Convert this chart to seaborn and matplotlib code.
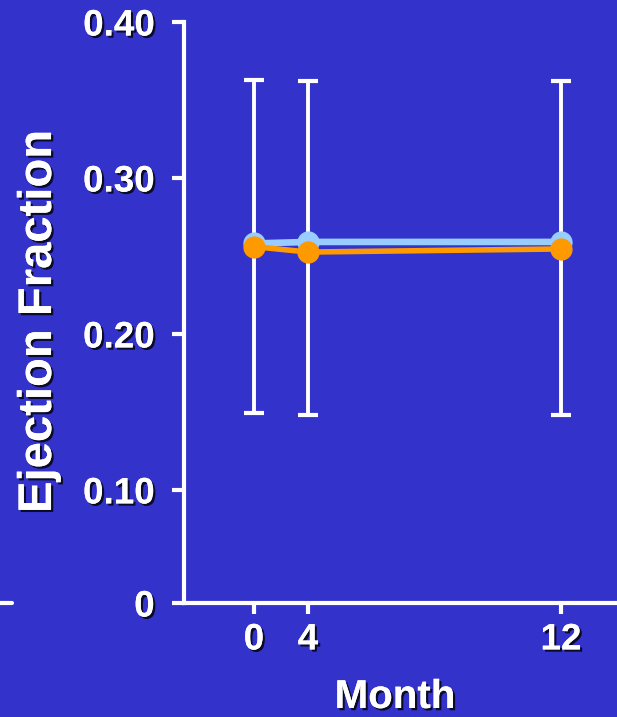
import numpy as np
import matplotlib
matplotlib.use("Agg")
import matplotlib.pyplot as plt
import matplotlib.patheffects as pe
from matplotlib.lines import Line2D
import seaborn as sns

# datos
months = [0, 4, 12]
ef_blue = [0.258, 0.259, 0.259]
ef_orange = [0.256, 0.2525, 0.2545]
err_top = [0.363, 0.362, 0.362]
err_bottom = [0.149, 0.148, 0.148]

y_zero = 0.0275  # el eje esta cortado: "0" se dibuja aqui
y_ticks = [y_zero, 0.10, 0.20, 0.30, 0.40]
y_ticklabels = ["0", "0.10", "0.20", "0.30", "0.40"]
x_ticks = [0, 4, 12]
x_ticklabels = ["0", "4", "12"]

bg = "#3333CC"
c_blue = "#99CCFF"
c_orange = "#FF9900"

sns.set_style("white")
plt.rcParams["font.family"] = ["Liberation Sans", "DejaVu Sans"]
plt.rcParams["font.weight"] = "bold"

shadow = [pe.withSimplePatchShadow(offset=(1.6, -1.6), shadow_rgbFace="black", alpha=0.8), pe.Normal()]

fig = plt.figure(figsize=(6.17, 7.17), dpi=100, facecolor=bg)
ax = fig.add_axes([184 / 617, 114 / 717, 433 / 617, 581 / 717])
ax.set_facecolor(bg)

# barras de error
lo = np.array(ef_blue) - np.array(err_bottom)
hi = np.array(err_top) - np.array(ef_blue)
ax.errorbar(months, ef_blue, yerr=[lo, hi], fmt="none", ecolor="white",
            elinewidth=2.8, capsize=7, capthick=3, zorder=1)

sns.lineplot(x=months, y=ef_blue, ax=ax, color=c_blue, linewidth=4.8, marker="o",
             markersize=16, markeredgewidth=0, zorder=3)
sns.lineplot(x=months, y=ef_orange, ax=ax, color=c_orange, linewidth=4, marker="o",
             markersize=16, markeredgewidth=0, zorder=4)

# escala no lineal en x (como en la diapositiva original)
p = 1.582
ax.set_xscale("function", functions=(lambda x: np.sign(x) * np.abs(x) ** p,
                                     lambda x: np.sign(x) * np.abs(x) ** (1 / p)))
ax.set_xlim(-4.71, 13.34)
ax.set_ylim(y_zero, 0.40)

ax.set_xticks(x_ticks)
ax.set_xticklabels(x_ticklabels)
ax.set_yticks(y_ticks)
ax.set_yticklabels(y_ticklabels)
ax.minorticks_off()

for s in ["top", "right"]:
    ax.spines[s].set_visible(False)
for s in ["left", "bottom"]:
    ax.spines[s].set_color("white")
    ax.spines[s].set_linewidth(3)

ax.tick_params(axis="y", colors="white", length=8.6, width=3, pad=12.5, labelsize=26.5, left=True)
ax.tick_params(axis="x", colors="white", length=8, width=3, pad=6, labelsize=26.5, bottom=True)
for t in ax.get_xticklabels() + ax.get_yticklabels():
    t.set_fontweight("bold")
    t.set_path_effects(shadow)

fig.text(395 / 617, 9 / 717, "Month", fontsize=29, fontweight="bold", color="white",
         ha="center", va="baseline", path_effects=shadow)
ax.set_ylabel("Ejection Fraction", fontsize=34, fontweight="bold", color="white", path_effects=shadow)
ax.yaxis.set_label_coords(-0.284, 0.485)

# trazo suelto a la izquierda del eje
fig.add_artist(Line2D([0, 12 / 617], [114 / 717, 114 / 717], color="white", linewidth=3,
                      transform=fig.transFigure))

fig.savefig("out.png", dpi=100, facecolor=bg)
